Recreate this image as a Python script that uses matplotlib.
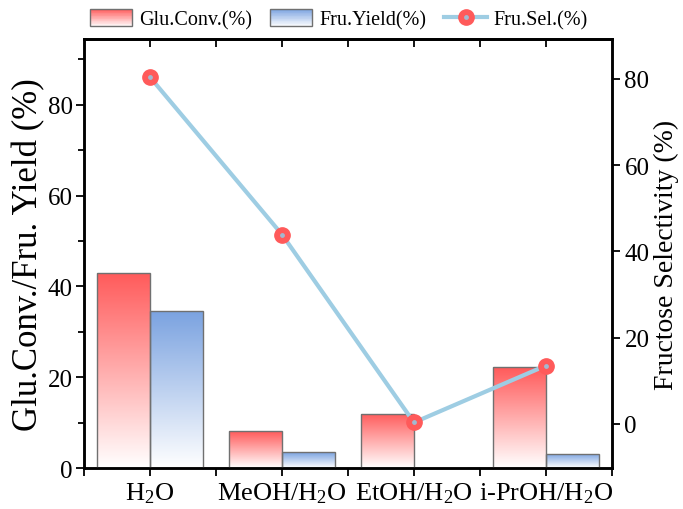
import numpy as np
import matplotlib.pyplot as plt
from matplotlib.patches import Rectangle
from matplotlib.lines import Line2D
from matplotlib.legend_handler import HandlerBase
from matplotlib.colors import to_rgb, LinearSegmentedColormap
from matplotlib.ticker import MultipleLocator

plt.rcParams['font.family'] = ['Liberation Serif', 'DejaVu Serif']
plt.rcParams['mathtext.fontset'] = 'custom'
plt.rcParams['mathtext.rm'] = 'Liberation Serif'
plt.rcParams['mathtext.it'] = 'Liberation Serif:italic'

solvents = [r'H$_2$O', r'MeOH/H$_2$O', r'EtOH/H$_2$O', r'i-PrOH/H$_2$O']
glu_conv = [43.0, 8.1, 11.9, 22.2]
fru_yield = [34.6, 3.5, 0.0, 3.1]
fru_sel = [80.4, 43.9, 0.3, 13.5]

red = '#ff5a5a'
blue = '#7aa2e0'
line_col = '#9ecde3'
edge = '#707070'


def grad_cmap(c):
    return LinearSegmentedColormap.from_list('g', ['#ffffff', c])


def grad_bars(ax, xs, hs, width, color):
    bars = ax.bar(xs, hs, width, facecolor='none', edgecolor=edge, linewidth=1, zorder=3)
    grad = np.linspace(0, 1, 256).reshape(-1, 1)
    for b in bars:
        x0, y0 = b.get_x(), b.get_y()
        w, h = b.get_width(), b.get_height()
        if h <= 0:
            continue
        im = ax.imshow(grad, cmap=grad_cmap(color), aspect='auto', origin='lower',
                       extent=[x0, x0 + w, y0, y0 + h], zorder=2)
        im.set_clip_path(b)
    return bars


class GradHandler(HandlerBase):
    def __init__(self, color):
        super().__init__()
        self.color = color

    def create_artists(self, legend, orig_handle, xdescent, ydescent, width, height, fontsize, trans):
        c = np.array(to_rgb(self.color))
        n = 24
        arts = []
        for i in range(n):
            f = (i + 0.5) / n
            col = (1 - f) * np.ones(3) + f * c
            arts.append(Rectangle((-xdescent, -ydescent + height * i / n), width, height / n,
                                  facecolor=col, edgecolor='none', transform=trans))
        arts.append(Rectangle((-xdescent, -ydescent), width, height, facecolor='none',
                              edgecolor=edge, linewidth=1, transform=trans))
        return arts


fig = plt.figure(figsize=(6.83, 5.10), dpi=100)
ax = fig.add_axes([0.123, 0.080, 0.773, 0.842])
ax2 = ax.twinx()

x = np.arange(len(solvents))
w = 0.4
grad_bars(ax, x - w / 2, glu_conv, w, red)
grad_bars(ax, x + w / 2, fru_yield, w, blue)

ax.set_xlim(-0.5, 3.5)
ax.set_ylim(0, 94.5)
ax.set_xticks(x)
ax.set_xticklabels(solvents, fontsize=19)
ax.xaxis.set_minor_locator(MultipleLocator(0.5))
ax.yaxis.set_major_locator(MultipleLocator(20))
ax.yaxis.set_minor_locator(MultipleLocator(10))
ax.tick_params(axis='y', which='major', direction='out', length=6, width=1.3, labelsize=18, pad=2)
ax.tick_params(axis='y', which='minor', direction='out', length=4, width=1.3)
ax.tick_params(axis='x', which='both', direction='out', length=6, width=1.3, top=False, pad=3)
ax.set_ylabel('Glu.Conv./Fru. Yield (%)', fontsize=25, labelpad=2)
for s in ax.spines.values():
    s.set_linewidth(1.8)

ax2.plot(x, fru_sel, color=line_col, lw=3, marker='o', ms=11, mfc=red, mec=red, zorder=4)
ax2.plot(x, fru_sel, ls='none', marker='o', ms=3.5, mfc='#a3b8cf', mec='none', zorder=5)
ax2.set_ylim(-10.3, 89.3)
ax2.set_yticks([0, 20, 40, 60, 80])
ax2.tick_params(axis='y', direction='out', length=6, width=1.3, labelsize=18, pad=3)
ax2.set_ylabel('Fructose Selectivity (%)', fontsize=20, labelpad=3)
for s in ax2.spines.values():
    s.set_linewidth(1.8)

# inward ticks along the top edge
sec = ax.secondary_xaxis('top')
sec.set_xticks([0, 0.5, 1, 1.5, 2, 2.5, 3])
sec.tick_params(direction='in', length=6, width=1.3, labeltop=False)
sec.spines['top'].set_linewidth(1.8)

h1 = Rectangle((0, 0), 1, 1)
h2 = Rectangle((0, 0), 1, 1)
lh = Line2D([], [], color=line_col, lw=3, marker='o', ms=11, mfc=red, mec=red)
ld = Line2D([], [], ls='none', marker='o', ms=3.5, mfc='#a3b8cf', mec='none')
fig.legend([h1, h2, (lh, ld)], ['Glu.Conv.(%)', 'Fru.Yield(%)', 'Fru.Sel.(%)'],
           handler_map={h1: GradHandler(red), h2: GradHandler(blue)},
           loc='center', bbox_to_anchor=(0.496, 0.960), ncol=3, frameon=False,
           fontsize=14.5, handlelength=2.1, handleheight=0.95, columnspacing=0.9,
           handletextpad=0.35)

fig.savefig('out.png', dpi=100)
